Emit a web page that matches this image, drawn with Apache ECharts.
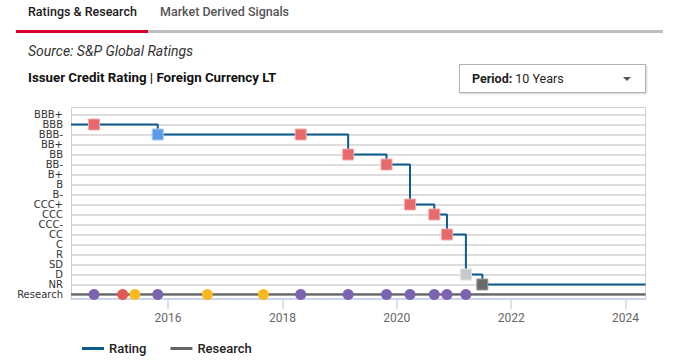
<!DOCTYPE html>
<html><head><meta charset="utf-8">
<script src="https://cdn.jsdelivr.net/npm/echarts@6/dist/echarts.min.js"></script>
<style>
html,body{margin:0;padding:0;background:#fff;}
#wrap{position:relative;width:678px;height:361px;overflow:hidden;font-family:Roboto,"Liberation Sans",sans-serif;}
#chart{position:absolute;left:0;top:0;width:678px;height:361px;}
.abs{position:absolute;white-space:nowrap;line-height:1;}
#tab1{left:28px;top:6px;font-size:12.5px;font-weight:500;color:#1a1a1a;}
#tab2{left:160px;top:6px;font-size:12.5px;font-weight:500;color:#555;}
#lineRed{left:16px;top:30px;width:132px;height:3px;background:#d5002b;}
#lineGray{left:148px;top:30px;width:515px;height:3px;background:#bdbdbd;}
#source{left:28px;top:44px;font-size:14px;font-style:italic;color:#333;}
#title{left:28px;top:71px;font-size:13.3px;font-weight:bold;color:#111;}
#period{left:459px;top:64px;width:185px;height:27px;border:1px solid #b3b3b3;box-shadow:1px 1px 2px rgba(0,0,0,0.18);background:#fff;}
#periodTxt{left:12px;top:8px;font-size:12.5px;color:#222;}
#tri{left:163px;top:12px;width:0;height:0;border-left:4px solid transparent;border-right:4px solid transparent;border-top:4px solid #555;}
</style></head>
<body>
<div id="wrap">
  <div id="chart"></div>
  <div class="abs" id="tab1">Ratings &amp; Research</div>
  <div class="abs" id="tab2">Market Derived Signals</div>
  <div class="abs" id="lineRed"></div>
  <div class="abs" id="lineGray"></div>
  <div class="abs" id="source">Source: S&amp;P Global Ratings</div>
  <div class="abs" id="title">Issuer Credit Rating | Foreign Currency LT</div>
  <div class="abs" id="period"><div class="abs" id="periodTxt"><b>Period:</b> 10 Years</div><div class="abs" id="tri"></div></div>
</div>
<script>
// ---- data ----
const ratingScale = ['Research','NR','D','SD','R','C','CC','CCC-','CCC','CCC+','B-','B','B+','BB-','BB','BB+','BBB-','BBB','BBB+'];
const axisStart = '2014-04-22';
const axisEnd = '2024-05-08';
const xTickLabels = ['2016','2018','2020','2022','2024'];

const ratingDates  = ['2014-04-22','2014-09-16','2015-10-28','2018-04-28','2019-02-25','2019-10-28','2020-03-26','2020-08-28','2020-11-17','2021-03-18','2021-07-01','2024-05-08'];
const ratingValues = ['BBB','BBB','BBB-','BBB-','BB','BB-','CCC+','CCC','CC','D','NR','NR'];
const ratingKinds  = ['none','affirm','downgrade','affirm','affirm','affirm','affirm','affirm','affirm','default','withdrawn','none'];

const researchDates = ['2014-04-22','2014-09-16','2015-03-18','2015-06-04','2015-10-28','2016-09-09','2017-09-02','2018-04-28','2019-02-25','2019-10-28','2020-03-26','2020-08-28','2020-11-17','2021-03-18','2024-05-08'];
const researchKinds = ['none','report','alert','bulletin','report','bulletin','bulletin','report','report','report','report','report','report','report','none'];

// ---- styles ----
const squareStyle = {
  affirm:   {color:'#e8696b', borderColor:'#f3aaaa'},
  downgrade:{color:'#5b9ce8', borderColor:'#a9caf2'},
  default:  {color:'#c9c9c9', borderColor:'#e2e2e2'},
  withdrawn:{color:'#6b6b6b', borderColor:'#9a9a9a'}
};
const dotColor = {report:'#7c63b2', alert:'#e05b53', bulletin:'#fbb820'};
const ts = d => Date.parse(d + 'T00:00:00Z');

const ratingData = ratingDates.map((d,i)=>{
  const k = ratingKinds[i];
  const item = {value:[ts(d), ratingValues[i]]};
  if (k === 'none') { item.symbol = 'none'; }
  else { item.itemStyle = Object.assign({borderWidth:1}, squareStyle[k]); }
  return item;
});
const researchData = researchDates.map((d,i)=>{
  const k = researchKinds[i];
  const item = {value:[ts(d), 'Research']};
  if (k === 'none') { item.symbol = 'none'; }
  else { item.itemStyle = {color: dotColor[k], borderWidth:0}; }
  return item;
});
const tickVals = xTickLabels.map(y => ts(y + '-01-01'));

const chart = echarts.init(document.getElementById('chart'), null, {renderer:'svg'});
const fontFam = 'Roboto, "Liberation Sans", sans-serif';
chart.setOption({
  animation:false,
  textStyle:{fontFamily:fontFam},
  graphic:[{
    type:'rect', shape:{x:71.5,y:107.5,width:574,height:192}, silent:true, z:-1,
    style:{fill:'none', stroke:'#cfcfcf', lineWidth:1}
  }],
  grid:{left:71, right:32.5, top:114.5, bottom:66.5, containLabel:false},
  legend:{
    left:82, top:342, padding:0, itemWidth:22, itemHeight:3, itemGap:24, icon:'rect',
    textStyle:{fontSize:13, color:'#222', fontWeight:500, fontFamily:fontFam},
    data:['Rating','Research']
  },
  xAxis:{
    type:'value', min:ts(axisStart), max:ts(axisEnd), offset:4.6, scale:true,
    axisLine:{show:true, lineStyle:{color:'#ccd6eb', width:2}},
    axisTick:{show:true, length:10, lineStyle:{color:'#ccd6eb', width:1.5}, customValues: tickVals},
    axisLabel:{color:'#666', fontSize:12, margin:13, customValues: tickVals,
      formatter:(v)=>String(new Date(v).getUTCFullYear())},
    splitLine:{show:false}
  },
  yAxis:{
    type:'category', data:ratingScale, boundaryGap:false,
    axisLine:{show:false}, axisTick:{show:false},
    axisLabel:{color:'#333', fontSize:10, lineHeight:9, margin:8, interval:0, fontFamily:'"DejaVu Sans", sans-serif'},
    splitLine:{show:true, lineStyle:{color:'#d3d3d3', width:1.5}}
  },
  series:[
    {
      name:'Rating', type:'line', step:'start', data:ratingData,
      symbol:'rect', symbolSize:11, showAllSymbol:true, z:3,
      lineStyle:{color:'#0b5b8f', width:2},
      itemStyle:{color:'#0b5b8f'}
    },
    {
      name:'Research', type:'line', data:researchData,
      symbol:'circle', symbolSize:11, showAllSymbol:true, z:2,
      lineStyle:{color:'#666666', width:2.5},
      itemStyle:{color:'#666666'}
    }
  ]
});
</script>
</body></html>
